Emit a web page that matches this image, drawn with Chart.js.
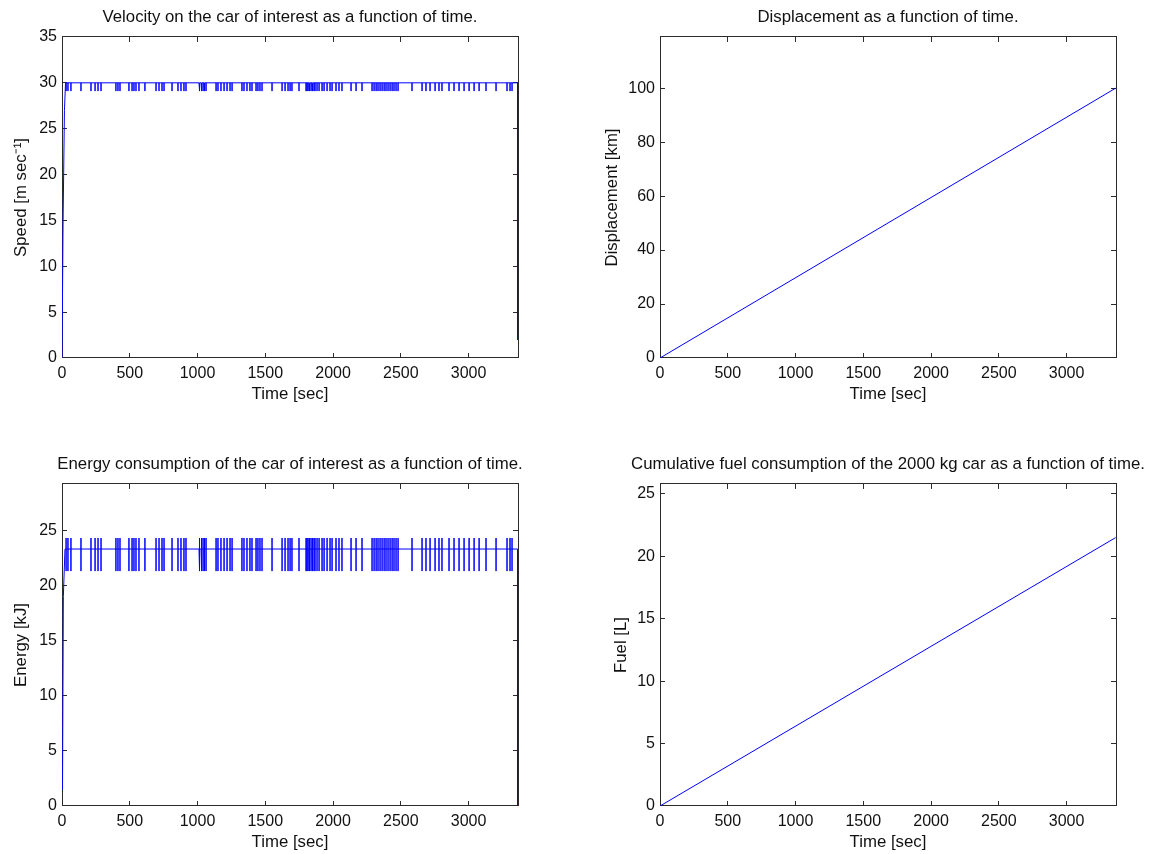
<!DOCTYPE html>
<html>
<head>
<meta charset="utf-8">
<title>Car of interest</title>
<script src="https://cdn.jsdelivr.net/npm/chart.js@4.4.1/dist/chart.umd.min.js"></script>
<style>
  body { margin: 0; background: #fff; width: 1151px; height: 854px; position: relative; overflow: hidden; }
  canvas { position: absolute; }
</style>
</head>
<body>
<canvas id="speedChart" style="left:0px;top:0px" width="580" height="406"></canvas>
<canvas id="distChart" style="left:590px;top:0px" width="596" height="406"></canvas>
<canvas id="energyChart" style="left:0px;top:447px" width="580" height="407"></canvas>
<canvas id="fuelChart" style="left:600px;top:447px" width="576" height="407"></canvas>
<script>
// time axis [sec]
const timeTicks = [0, 500, 1000, 1500, 2000, 2500, 3000];
const timeMax = 3365;
const tripEnd = 3362;

// moments where the car eases off: speed dips and energy bursts line up
const eventTimes = [30, 44, 66, 140, 214, 244, 266, 288, 398, 413, 428, 494, 517, 531, 546,
  568, 612, 694, 716, 738, 753, 812, 856, 878, 900, 915, 1011, 1018, 1026, 1033, 1041, 1048,
  1055, 1063, 1137, 1151, 1173, 1196, 1218, 1240, 1255, 1328, 1343, 1365, 1387, 1402, 1432,
  1446, 1461, 1476, 1550, 1624, 1646, 1668, 1683, 1697, 1749, 1801, 1808, 1816, 1823, 1830,
  1838, 1845, 1852, 1860, 1867, 1882, 1897, 1919, 1934, 1956, 1978, 1993, 2022, 2044, 2066,
  2133, 2170, 2214, 2288, 2303, 2318, 2332, 2347, 2362, 2377, 2391, 2406, 2421, 2436, 2450,
  2465, 2480, 2583, 2657, 2686, 2716, 2753, 2782, 2804, 2856, 2893, 2930, 2967, 3004, 3041,
  3078, 3129, 3203, 3284, 3306, 3321];

// speed [m/s]
const speedTicks = [0, 5, 10, 15, 20, 25, 30, 35];
const speedStartT = [0, 8, 18, 26];
const speedStartV = [0, 15, 27, 30];
const speedCruise = 30;
const speedDip = 29.1;
const speedFinal = 2;

// displacement [km]
const distTicks = [0, 20, 40, 60, 80, 100];
const distT = [0, tripEnd];
const distKm = [0, 100];

// energy [kJ]
const energyTicks = [0, 5, 10, 15, 20, 25];
const energyStartT = [0, 4, 10, 22];
const energyStartV = [1.5, 2.2, 19, 23.3];
const energyCruise = 23.3;
const energyHigh = 24.3;
const energyLow = 21.3;
const energyFinal = 0;

// cumulative fuel [L]
const fuelTicks = [0, 5, 10, 15, 20, 25];
const fuelT = [0, tripEnd];
const fuelL = [0, 21.5];

function pairs(ts, vs) {
  return ts.map((t, i) => ({ x: t, y: vs[i] }));
}

function speedSeries() {
  const pts = pairs(speedStartT, speedStartV);
  eventTimes.forEach(t => {
    pts.push({ x: t, y: speedCruise }, { x: t, y: speedDip }, { x: t, y: speedCruise });
  });
  pts.push({ x: tripEnd, y: speedCruise }, { x: tripEnd, y: speedFinal });
  return pts;
}

function energySeries() {
  const pts = pairs(energyStartT, energyStartV);
  eventTimes.forEach(t => {
    pts.push({ x: t, y: energyCruise }, { x: t, y: energyHigh },
             { x: t, y: energyLow }, { x: t, y: energyCruise });
  });
  pts.push({ x: tripEnd, y: energyCruise }, { x: tripEnd, y: energyFinal });
  return pts;
}

const FAMILY = '"Liberation Sans", Arial, Helvetica, sans-serif';
const TICK_FONT = { family: FAMILY, size: 16 };
const LABEL_FONT = { family: FAMILY, size: 16.8 };
const INK = '#111';
const FRAME = '#2b2b2b';

function setTicks(list) {
  return scale => { scale.ticks = list.map(v => ({ value: v })); };
}

// one subplot; the right-hand frame axis is as wide as the left one so the
// full-width title sits centred over the plot box
function makePanel(id, p) {
  const frameGrid = { drawOnChartArea: false, drawTicks: true, tickLength: -5, color: FRAME, lineWidth: 1 };
  const frameBorder = { display: true, color: FRAME, width: 1 };
  return new Chart(document.getElementById(id).getContext('2d'), {
    type: 'scatter',
    data: {
      datasets: [{
        data: p.data,
        showLine: true,
        borderColor: '#0000ff',
        borderWidth: 1,
        pointRadius: 0,
        tension: 0
      }]
    },
    options: {
      responsive: false,
      maintainAspectRatio: false,
      animation: false,
      devicePixelRatio: 1,
      events: [],
      layout: { padding: 0 },
      plugins: {
        legend: { display: false },
        tooltip: { enabled: false },
        title: {
          display: true,
          text: p.title,
          fullSize: true,
          color: INK,
          font: { family: FAMILY, size: 16.8, weight: 'normal' },
          padding: { top: 6.9, bottom: 9.9 }
        }
      },
      scales: {
        x: {
          type: 'linear', position: 'bottom', min: 0, max: timeMax,
          afterBuildTicks: setTicks(timeTicks),
          afterFit: s => { s.height = 48; },
          grid: frameGrid, border: frameBorder,
          ticks: { color: INK, font: TICK_FONT, padding: 10.5, maxRotation: 0, callback: v => String(v) },
          title: { display: true, text: 'Time [sec]', color: INK, font: LABEL_FONT, padding: { top: 0, bottom: 1.9 } }
        },
        xTop: {
          type: 'linear', position: 'top', min: 0, max: timeMax,
          afterBuildTicks: setTicks(timeTicks),
          afterFit: s => { s.height = 0; },
          grid: frameGrid, border: frameBorder,
          ticks: { display: false }
        },
        y: {
          type: 'linear', position: 'left', min: 0, max: p.yMax,
          afterBuildTicks: setTicks(p.yTicks),
          afterFit: s => { s.width = p.axisWidth; },
          grid: frameGrid, border: frameBorder,
          ticks: { color: INK, font: TICK_FONT, padding: 10, callback: v => String(v) },
          title: { display: true, text: p.yTitle, color: INK, font: LABEL_FONT, padding: { top: p.yTitlePad, bottom: 0 } }
        },
        yRight: {
          type: 'linear', position: 'right', min: 0, max: p.yMax,
          afterBuildTicks: setTicks(p.yTicks),
          afterFit: s => { s.width = p.axisWidth; },
          grid: frameGrid, border: frameBorder,
          ticks: { display: false }
        }
      }
    }
  });
}

makePanel('speedChart', {
  data: speedSeries(), yMax: 35, yTicks: speedTicks,
  title: 'Velocity on the car of interest as a function of time.',
  yTitle: 'Speed [m sec\u207B\u00B9]', axisWidth: 62, yTitlePad: 10.9
});

makePanel('distChart', {
  data: pairs(distT, distKm), yMax: 119, yTicks: distTicks,
  title: 'Displacement as a function of time.',
  yTitle: 'Displacement [km]', axisWidth: 70, yTitlePad: 11.9
});

makePanel('energyChart', {
  data: energySeries(), yMax: 29.2, yTicks: energyTicks,
  title: 'Energy consumption of the car of interest as a function of time.',
  yTitle: 'Energy [kJ]', axisWidth: 62, yTitlePad: 10.9
});

makePanel('fuelChart', {
  data: pairs(fuelT, fuelL), yMax: 25.8, yTicks: fuelTicks,
  title: 'Cumulative fuel consumption of the 2000 kg car as a function of time.',
  yTitle: 'Fuel [L]', axisWidth: 60, yTitlePad: 10.9
});
</script>
</body>
</html>
